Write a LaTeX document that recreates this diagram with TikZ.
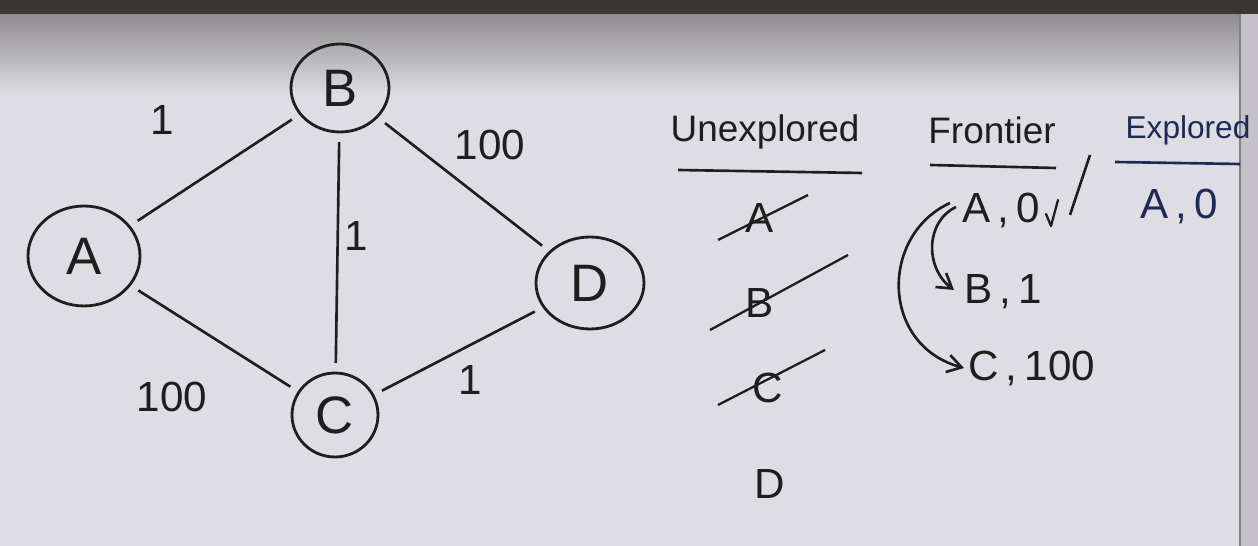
\documentclass[tikz,border=0pt]{standalone}
\usepackage{fontspec}
\setmainfont{Liberation Sans}
\usetikzlibrary{shapes.geometric,arrows.meta}
\definecolor{board}{HTML}{DEDDE3}
\definecolor{boardtop}{HTML}{8E8C8E}
\definecolor{frame}{HTML}{3A3632}
\definecolor{rim}{HTML}{C4C2C8}
\definecolor{ink}{HTML}{1E1E1E}
\definecolor{blueink}{HTML}{1E2A55}
\tikzset{
  vertex/.style={draw=ink,ellipse,line width=1.6pt,inner sep=0pt,font=\fontsize{30}{36}\selectfont,text=ink},
  edgeline/.style={draw=ink,line width=1.5pt,shorten <=5pt,shorten >=5pt},
  wlabel/.style={font=\fontsize{24}{28}\selectfont,text=ink},
  head/.style={font=\fontsize{21}{26}\selectfont,text=ink},
  cell/.style={font=\fontsize{24}{30}\selectfont,text=ink},
  rule/.style={draw=ink,line width=1.5pt},
  strike/.style={draw=ink,line width=1.3pt},
  curvearrow/.style={draw=ink,line width=1.5pt,-{Straight Barb[length=8pt,width=10pt]}}
}
\begin{document}
\begin{tikzpicture}[x=0.02cm,y=-0.02cm]
\useasboundingbox (0,0) rectangle (1258,546);
% whiteboard background
\fill[board] (0,0) rectangle (1258,546);
\shade[top color=boardtop,bottom color=board] (0,14) rectangle (1258,95);
\fill[frame] (0,0) rectangle (1258,14);
\fill[rim] (1240,14) rectangle (1258,546);
\draw[gray,line width=0.8pt] (1240,14) -- (1240,546);

% graph
\node[vertex,minimum width=2.24cm,minimum height=2.0cm] (A) at (84,256) {A};
\node[vertex,minimum width=1.96cm,minimum height=1.76cm] (B) at (340,88) {B};
\node[vertex,minimum width=1.72cm,minimum height=1.68cm] (C) at (335,415) {C};
\node[vertex,minimum width=2.16cm,minimum height=1.84cm] (D) at (590,283) {D};

\draw[edgeline] (A) -- (B);
\draw[edgeline] (B) -- (C);
\draw[edgeline] (B) -- (D);
\draw[edgeline] (A) -- (C);
\draw[edgeline] (C) -- (D);

\node[wlabel] (lab) at (162,120) {1};
\node[wlabel] (lbc) at (356,236) {1};
\node[wlabel] (lbd) at (490,145) {100};
\node[wlabel] (lac) at (172,397) {100};
\node[wlabel] (lcd) at (470,380) {1};

% table headers
\node[head] (hu) at (765,132) {Unexplored};
\node[head] (hf) at (992,130) {Frontier};
\node[head,text=blueink,font=\fontsize{18}{22}\selectfont] (he) at (1188,130) {Explored};
\coordinate (u1) at (678,170); \coordinate (u2) at (862,173);
\coordinate (f1) at (930,165); \coordinate (f2) at (1056,168);
\coordinate (e1) at (1115,162); \coordinate (e2) at (1240,164);
\draw[rule] (u1) -- (u2);
\draw[rule] (f1) -- (f2);
\draw[rule,draw=blueink] (e1) -- (e2);
\coordinate (s1) at (1070,215); \coordinate (s2) at (1090,155);
\draw[rule] (s1) -- (s2);

% unexplored column
\node[cell] (ua) at (760,218) {A};
\node[cell] (ub) at (760,303) {B};
\node[cell] (uc) at (768,388) {C};
\node[cell] (ud) at (770,484) {D};
\coordinate (ka1) at (718,240); \coordinate (ka2) at (808,195);
\coordinate (kb1) at (710,330); \coordinate (kb2) at (848,255);
\coordinate (kc1) at (718,405); \coordinate (kc2) at (825,350);
\draw[strike] (ka1) -- (ka2);
\draw[strike] (kb1) -- (kb2);
\draw[strike] (kc1) -- (kc2);

% frontier column
\node[cell,anchor=west,inner sep=0pt] (fa) at (962,210) {A\,,\,0};
\node[cell,anchor=west,inner sep=0pt] (fb) at (964,292) {B\,,\,1};
\node[cell,anchor=west,inner sep=0pt] (fc) at (968,368) {C\,,\,100};
\coordinate (t1) at (1046,214); \coordinate (t2) at (1051,226); \coordinate (t3) at (1058,200);
\draw[strike,line cap=round,line join=round] (t1) -- (t2) -- (t3);

% explored column
\node[cell,text=blueink,anchor=west,inner sep=0pt] (ea) at (1140,206) {A\,,\,0};

% arrows
\coordinate (a1s) at (956,207); \coordinate (a1e) at (954,290);
\coordinate (a2s) at (950,203); \coordinate (a2e) at (964,368);
\draw[curvearrow] (a1s) .. controls (925,222) and (925,268) .. (a1e);
\draw[curvearrow] (a2s) .. controls (880,235) and (880,345) .. (a2e);
\end{tikzpicture}
\end{document}
